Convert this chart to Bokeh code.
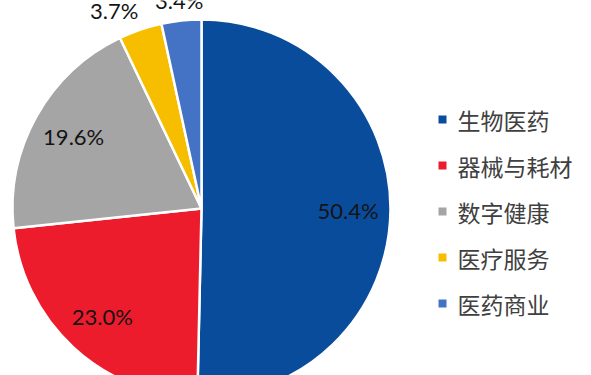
import math
from bokeh.plotting import figure
from bokeh.models import ColumnDataSource, Range1d
from bokeh.core.properties import value
from bokeh.embed import file_html
from bokeh.resources import INLINE

categories = ["生物医药", "器械与耗材", "数字健康", "医疗服务", "医药商业"]
shares = [50.4, 23.0, 19.6, 3.7, 3.4]
colors = ["#0A4C9C", "#EC1C2D", "#A5A5A5", "#F7BE00", "#4472C4"]

W, H = 591, 375
CX, CY, R = 201, H - 208, 189

total = sum(shares)
starts, ends, lx, ly, labels, outside = [], [], [], [], [], []
cum = 0.0
for s in shares:
    a0 = cum / total * 360.0
    cum += s
    a1 = cum / total * 360.0
    # clockwise from 12 o'clock -> bokeh angles (ccw from +x)
    starts.append(math.radians(90 - a1))
    ends.append(math.radians(90 - a0))
    mid = math.radians((a0 + a1) / 2)
    out = s < 5
    rr = R * (1.105 if out else 0.775)
    lx.append(CX + rr * math.sin(mid))
    ly.append(CY + rr * math.cos(mid))
    labels.append(f"{s:.1f}%")
    outside.append(out)

# avoid overlap of neighbouring outside labels: push earlier one left
MIN_GAP = 65
for i in range(len(shares) - 2, -1, -1):
    if outside[i] and outside[i + 1] and lx[i + 1] - lx[i] < MIN_GAP:
        lx[i] = lx[i + 1] - MIN_GAP

src = ColumnDataSource(dict(start=starts, end=ends, color=colors,
                            lx=lx, ly=ly, label=labels))

p = figure(width=W, height=H, output_backend="svg", toolbar_location=None,
           x_range=Range1d(0, W), y_range=Range1d(0, H), min_border=0)
p.axis.visible = False
p.grid.visible = False
p.outline_line_color = None
p.background_fill_color = "white"
p.border_fill_color = "white"

p.wedge(x=CX, y=CY, radius=R, start_angle="start", end_angle="end",
        fill_color="color", line_color="white", line_width=2.5, source=src)

p.text(x="lx", y="ly", text="label", source=src, text_align="center",
       text_baseline="middle", text_font=value("Lato"),
       text_font_size="22px", text_color="#141414")

# legend
leg_y = [H - (119 + i * 46) for i in range(len(categories))]
leg = ColumnDataSource(dict(x=[442] * len(categories), tx=[457] * len(categories),
                            y=leg_y, color=colors, name=categories))
p.scatter(x="x", y="y", marker="square", size=8, fill_color="color",
          line_color=None, source=leg)
p.text(x="tx", y="y", text="name", source=leg, text_baseline="middle",
       text_font=value("Noto Sans CJK SC"), text_font_size="23px",
       text_color="#404040")

open("out.html", "w").write(file_html(p, INLINE))
